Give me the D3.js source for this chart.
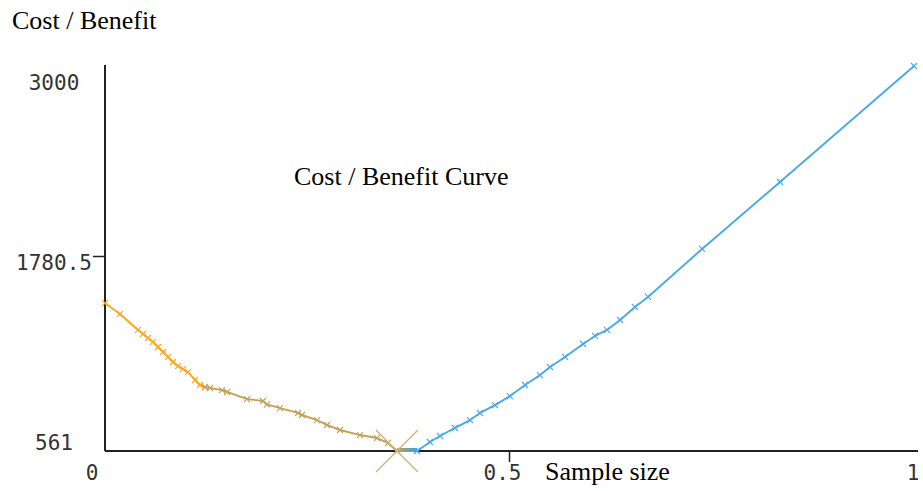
<!DOCTYPE html>
<html>
<head>
<meta charset="utf-8">
<script src="https://cdn.jsdelivr.net/npm/d3@7/dist/d3.min.js"></script>
<style>
  html, body { margin: 0; padding: 0; background: #fff; }
  svg { display: block; }
</style>
</head>
<body>
<svg id="chart" width="923" height="491"></svg>
<script>
// Cost / benefit as a function of sample size, in three stretches
const sizeRising = [0.0, 0.0185, 0.0408, 0.047, 0.0532, 0.0593, 0.0655, 0.0717, 0.0779, 0.084, 0.0902, 0.0964, 0.1026, 0.1112, 0.1174, 0.1236];
const costRising = [1498, 1429, 1328, 1302, 1277, 1252, 1220, 1188, 1157, 1125, 1099, 1080, 1061, 1011, 979, 966];

const sizeMiddle = [0.1236, 0.1298, 0.1446, 0.1508, 0.1755, 0.1953, 0.2002, 0.2163, 0.2386, 0.2435, 0.262, 0.2744, 0.2905, 0.3152, 0.3362, 0.3498, 0.3609];
const costMiddle = [966, 960, 947, 935, 890, 878, 856, 833, 802, 789, 757, 726, 694, 662, 643, 612, 561];

const sizeUpper = [0.3857, 0.4017, 0.4141, 0.4326, 0.4512, 0.4635, 0.4821, 0.5006, 0.5192, 0.5377, 0.5501, 0.5686, 0.5909, 0.6057, 0.6205, 0.6366, 0.6551, 0.6712, 0.738, 0.8344, 1.0];
const costUpper = [561, 618, 656, 707, 757, 802, 852, 909, 979, 1042, 1093, 1157, 1239, 1290, 1328, 1391, 1473, 1537, 1841, 2265, 3000];

// Optimum (lowest cost / benefit)
const optimumSize = 0.3609;
const optimumCost = 561;

const xTicks = [0, 0.5, 1];
const xTickLabels = ["0", "0.5", "1"];
const yTicks = [561, 1780.5, 3000];
const yTickLabels = ["561", "1780.5", "3000"];

const svg = d3.select("#chart");

const x = d3.scaleLinear().domain([0, 1]).range([105, 914]);
const y = d3.scaleLinear().domain([561, 3000]).range([451, 66]);
// tick labels are spread evenly along each axis
const xLabel = d3.scaleLinear().domain([0, 1]).range([92, 913]);
const yLabel = d3.scaleLinear().domain([561, 3000]).range([443, 83]);

const serif = "'Liberation Serif', 'Times New Roman', serif";
const mono = "'DejaVu Sans Mono', 'Liberation Mono', monospace";

// Axes
svg.append("line").attr("x1", x(0)).attr("x2", 918).attr("y1", y(561)).attr("y2", y(561))
  .attr("stroke", "#222").attr("stroke-width", 2);
svg.append("line").attr("x1", x(0)).attr("x2", x(0)).attr("y1", y(3000) - 1).attr("y2", y(561))
  .attr("stroke", "#222").attr("stroke-width", 2);

// interior tick marks
xTicks.filter((t, i) => i > 0 && i < xTicks.length - 1).forEach(t => {
  svg.append("line").attr("x1", x(t)).attr("x2", x(t)).attr("y1", y(561)).attr("y2", y(561) + 11)
    .attr("stroke", "#222").attr("stroke-width", 1.5);
});
yTicks.filter((t, i) => i > 0 && i < yTicks.length - 1).forEach(t => {
  svg.append("line").attr("x1", x(0) - 12).attr("x2", x(0)).attr("y1", y(t) - 2).attr("y2", y(t) - 2)
    .attr("stroke", "#222").attr("stroke-width", 1.5);
});

// tick labels
svg.selectAll("text.xtick").data(xTicks).enter().append("text")
  .attr("class", "xtick")
  .attr("x", d => xLabel(d)).attr("y", 473)
  .attr("text-anchor", "middle").attr("dominant-baseline", "central")
  .attr("font-family", mono).attr("font-size", 21).attr("fill", "#333")
  .text((d, i) => xTickLabels[i]);

svg.selectAll("text.ytick").data(yTicks).enter().append("text")
  .attr("class", "ytick")
  .attr("x", 54).attr("y", d => yLabel(d))
  .attr("text-anchor", "middle").attr("dominant-baseline", "central")
  .attr("font-family", mono).attr("font-size", 21).attr("fill", "#333")
  .text((d, i) => yTickLabels[i]);

// Titles
svg.append("text").attr("x", 12).attr("y", 29).attr("font-family", serif).attr("font-size", 26)
  .attr("fill", "#000").text("Cost / Benefit");
svg.append("text").attr("x", 294).attr("y", 185).attr("font-family", serif).attr("font-size", 26)
  .attr("fill", "#000").text("Cost / Benefit Curve");
svg.append("text").attr("x", 545).attr("y", 480).attr("font-family", serif).attr("font-size", 26)
  .attr("fill", "#000").text("Sample size");

const line = d3.line().x(d => x(d[0])).y(d => y(d[1]));

function drawStretch(sizes, costs, color) {
  const pts = sizes.map((s, i) => [s, costs[i]]);
  svg.append("path").datum(pts).attr("d", line)
    .attr("fill", "none").attr("stroke", color).attr("stroke-width", 1.9)
    .attr("stroke-linejoin", "round");
  const g = svg.append("g").attr("stroke", color).attr("stroke-width", 1.2);
  pts.forEach(p => {
    const cx = x(p[0]), cy = y(p[1]), r = 3;
    g.append("path").attr("d", `M${cx - r},${cy - r}L${cx + r},${cy + r}M${cx + r},${cy - r}L${cx - r},${cy + r}`);
  });
}

// blend between the optimum and the start of the upper stretch
const defs = svg.append("defs");
const grad = defs.append("linearGradient").attr("id", "blend")
  .attr("gradientUnits", "userSpaceOnUse")
  .attr("x1", x(optimumSize)).attr("x2", x(sizeUpper[0])).attr("y1", 0).attr("y2", 0);
grad.append("stop").attr("offset", "0%").attr("stop-color", "#b9a163");
grad.append("stop").attr("offset", "100%").attr("stop-color", "#3e9fd6");
svg.append("line")
  .attr("x1", x(optimumSize)).attr("x2", x(sizeUpper[0]))
  .attr("y1", y(optimumCost) - 1).attr("y2", y(optimumCost) - 1)
  .attr("stroke", "url(#blend)").attr("stroke-width", 4);

drawStretch(sizeRising, costRising, "#ffa41c");
drawStretch(sizeMiddle, costMiddle, "#c2a158");
drawStretch(sizeUpper, costUpper, "#4aa9e9");

// optimum marker
{
  const cx = x(optimumSize), cy = y(optimumCost), r = 21;
  svg.append("path")
    .attr("d", `M${cx - r},${cy - r}L${cx + r},${cy + r}M${cx + r},${cy - r}L${cx - r},${cy + r}`)
    .attr("stroke", "#cfb57c").attr("stroke-width", 1.4).attr("fill", "none");
}
</script>
</body>
</html>
